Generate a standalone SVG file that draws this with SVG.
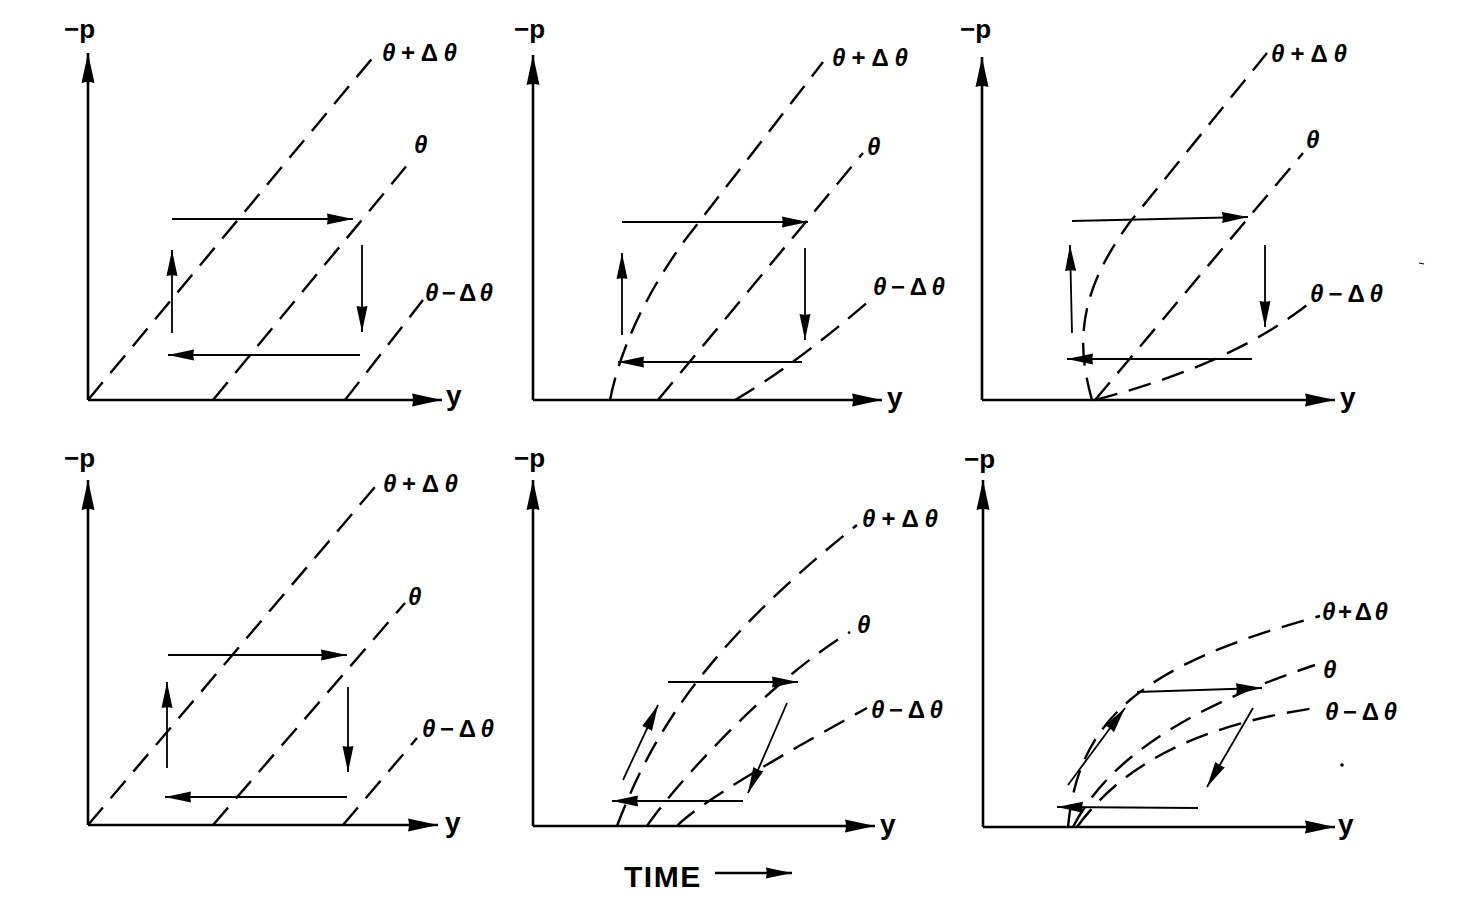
<svg xmlns="http://www.w3.org/2000/svg" width="1472" height="912" viewBox="0 0 1472 912">
<style>
.bg{fill:#fff}
.ax{stroke:#000;stroke-width:2.6;fill:none;marker-end:url(#axh)}
.dl{stroke:#000;stroke-width:2.4;fill:none;stroke-dasharray:23 12}
.ar{stroke:#000;stroke-width:1.8;fill:none;marker-end:url(#ah)}
.lb{font-family:"Liberation Sans",Arial,sans-serif;font-weight:bold;font-size:24px;fill:#000}
.th{font-style:italic}
.ap{font-family:"Liberation Sans",Arial,sans-serif;font-weight:bold;font-size:26px;fill:#000}
.ay{font-family:"Liberation Sans",Arial,sans-serif;font-weight:bold;font-size:28px;fill:#000}
.tm{font-family:"Liberation Sans",Arial,sans-serif;font-weight:bold;font-size:30px;fill:#000;letter-spacing:1.5px}
</style>
<defs>
<marker id="ah" markerUnits="userSpaceOnUse" markerWidth="26" markerHeight="12" refX="26" refY="6" orient="auto">
<path d="M0,0.5 L26,6 L0,11.5 Q1.5,6 0,0.5z" fill="#000"/>
</marker>
<marker id="axh" markerUnits="userSpaceOnUse" markerWidth="30" markerHeight="14" refX="30" refY="7" orient="auto">
<path d="M0,0.5 L30,7 L0,13.5 Q2,7 0,0.5z" fill="#000"/>
</marker>
</defs>
<rect class="bg" x="0" y="0" width="1472" height="912"/>

<g id="panel1">
<path class="ax" d="M88,400 L88,53"/>
<path class="ax" d="M88,400 L442,400"/>
<text class="ap" x="64" y="38">−p</text>
<text class="ay" x="446" y="405">y</text>
<path class="dl" d="M88,400 L375,55"/>
<path class="dl" d="M213,400 L413,158"/>
<path class="dl" d="M345,400 L423,300"/>
<text class="lb" x="382" y="61" textLength="75" lengthAdjust="spacing"><tspan class="th">θ</tspan>+Δ<tspan class="th">θ</tspan></text>
<text class="lb" x="414" y="153"><tspan class="th">θ</tspan></text>
<text class="lb" x="425" y="301" textLength="68" lengthAdjust="spacing"><tspan class="th">θ</tspan>−Δ<tspan class="th">θ</tspan></text>
</g>

<g id="panel2">
<path class="ax" d="M533,400 L533,55"/>
<path class="ax" d="M533,400 L882,400"/>
<text class="ap" x="514" y="38">−p</text>
<text class="ay" x="887" y="407">y</text>
<path class="dl" d="M610,400 C620,350 645,295 685,240 L823,62"/>
<path class="dl" d="M658,400 L863,153"/>
<path class="dl" d="M735,400 Q795,365 870,300"/>
<text class="lb" x="832" y="66" textLength="76" lengthAdjust="spacing"><tspan class="th">θ</tspan>+Δ<tspan class="th">θ</tspan></text>
<text class="lb" x="867" y="155"><tspan class="th">θ</tspan></text>
<text class="lb" x="873" y="295" textLength="72" lengthAdjust="spacing"><tspan class="th">θ</tspan>−Δ<tspan class="th">θ</tspan></text>
</g>

<g id="panel3">
<path class="ax" d="M982,400 L982,57"/>
<path class="ax" d="M982,400 L1335,400"/>
<text class="ap" x="960" y="38">−p</text>
<text class="ay" x="1340" y="407">y</text>
<path class="dl" d="M1092,400 C1075,340 1080,290 1130,222 L1267,53"/>
<path class="dl" d="M1095,400 L1303,153"/>
<path class="dl" d="M1095,400 Q1230,365 1307,305"/>
<text class="lb" x="1271" y="62" textLength="76" lengthAdjust="spacing"><tspan class="th">θ</tspan>+Δ<tspan class="th">θ</tspan></text>
<text class="lb" x="1306" y="148"><tspan class="th">θ</tspan></text>
<text class="lb" x="1310" y="302" textLength="73" lengthAdjust="spacing"><tspan class="th">θ</tspan>−Δ<tspan class="th">θ</tspan></text>
<path d="M1419,263 L1424,264" stroke="#000" stroke-width="1.2"/>
</g>

<g id="panel4">
<path class="ax" d="M88,825 L88,480"/>
<path class="ax" d="M88,825 L438,825"/>
<text class="ap" x="64" y="467">−p</text>
<text class="ay" x="445" y="832">y</text>
<path class="dl" d="M88,825 L375,487"/>
<path class="dl" d="M213,825 L405,603"/>
<path class="dl" d="M343,825 L417,738"/>
<text class="lb" x="383" y="492" textLength="75" lengthAdjust="spacing"><tspan class="th">θ</tspan>+Δ<tspan class="th">θ</tspan></text>
<text class="lb" x="408" y="605"><tspan class="th">θ</tspan></text>
<text class="lb" x="422" y="737" textLength="72" lengthAdjust="spacing"><tspan class="th">θ</tspan>−Δ<tspan class="th">θ</tspan></text>
</g>

<g id="panel5">
<path class="ax" d="M533,826 L533,480"/>
<path class="ax" d="M533,826 L875,826"/>
<text class="ap" x="514" y="467">−p</text>
<text class="ay" x="880" y="834">y</text>
<path class="dl" d="M617,826 C650,740 700,650 857,525"/>
<path class="dl" d="M647,826 C675,785 770,680 850,632"/>
<path class="dl" d="M677,826 C705,798 800,745 867,708"/>
<text class="lb" x="862" y="527" textLength="76" lengthAdjust="spacing"><tspan class="th">θ</tspan>+Δ<tspan class="th">θ</tspan></text>
<text class="lb" x="857" y="633"><tspan class="th">θ</tspan></text>
<text class="lb" x="871" y="718" textLength="72" lengthAdjust="spacing"><tspan class="th">θ</tspan>−Δ<tspan class="th">θ</tspan></text>
</g>

<g id="panel6">
<path class="ax" d="M983,827 L983,480"/>
<path class="ax" d="M983,827 L1335,827"/>
<text class="ap" x="964" y="468">−p</text>
<text class="ay" x="1338" y="834">y</text>
<path class="dl" d="M1068,827 C1078,720 1140,665 1320,616"/>
<path class="dl" d="M1073,827 C1105,765 1175,712 1315,665"/>
<path class="dl" d="M1077,827 C1115,775 1180,728 1315,708"/>
<text class="lb" x="1322" y="620" textLength="66" lengthAdjust="spacing"><tspan class="th">θ</tspan>+Δ<tspan class="th">θ</tspan></text>
<text class="lb" x="1323" y="678"><tspan class="th">θ</tspan></text>
<text class="lb" x="1325" y="720" textLength="72" lengthAdjust="spacing"><tspan class="th">θ</tspan>−Δ<tspan class="th">θ</tspan></text>
<circle cx="1342" cy="765" r="1.8" fill="#000"/>
</g>

<g id="time-label">
<text class="tm" x="624" y="887">TIME</text>
<path class="ar" style="stroke-width:2.4" d="M715,873 L792,873"/>
</g>

<g id="connectors">
<path class="ar" d="M172,219 L353,219"/>
<path class="ar" d="M362,245 L362,332"/>
<path class="ar" d="M360,355 L168,355"/>
<path class="ar" d="M172,333 L172,250"/>

<path class="ar" d="M622,222 L808,222"/>
<path class="ar" d="M805,248 L805,340"/>
<path class="ar" d="M802,362 L618,362"/>
<path class="ar" d="M622,335 L622,253"/>

<path class="ar" d="M1072,221 L1248,217"/>
<path class="ar" d="M1265,245 L1265,327"/>
<path class="ar" d="M1252,359 L1067,359"/>
<path class="ar" d="M1072,333 L1070,245"/>

<path class="ar" d="M168,655 L347,655"/>
<path class="ar" d="M348,687 L348,772"/>
<path class="ar" d="M347,797 L165,797"/>
<path class="ar" d="M167,768 L167,682"/>

<path class="ar" d="M668,682 L798,682"/>
<path class="ar" d="M787,703 L748,793"/>
<path class="ar" d="M743,801 L612,801"/>
<path class="ar" d="M623,780 L658,705"/>

<path class="ar" d="M1137,692 L1262,688"/>
<path class="ar" d="M1253,708 L1207,787"/>
<path class="ar" d="M1198,808 L1057,807"/>
<path class="ar" d="M1068,785 L1125,708"/>
</g>
</svg>
